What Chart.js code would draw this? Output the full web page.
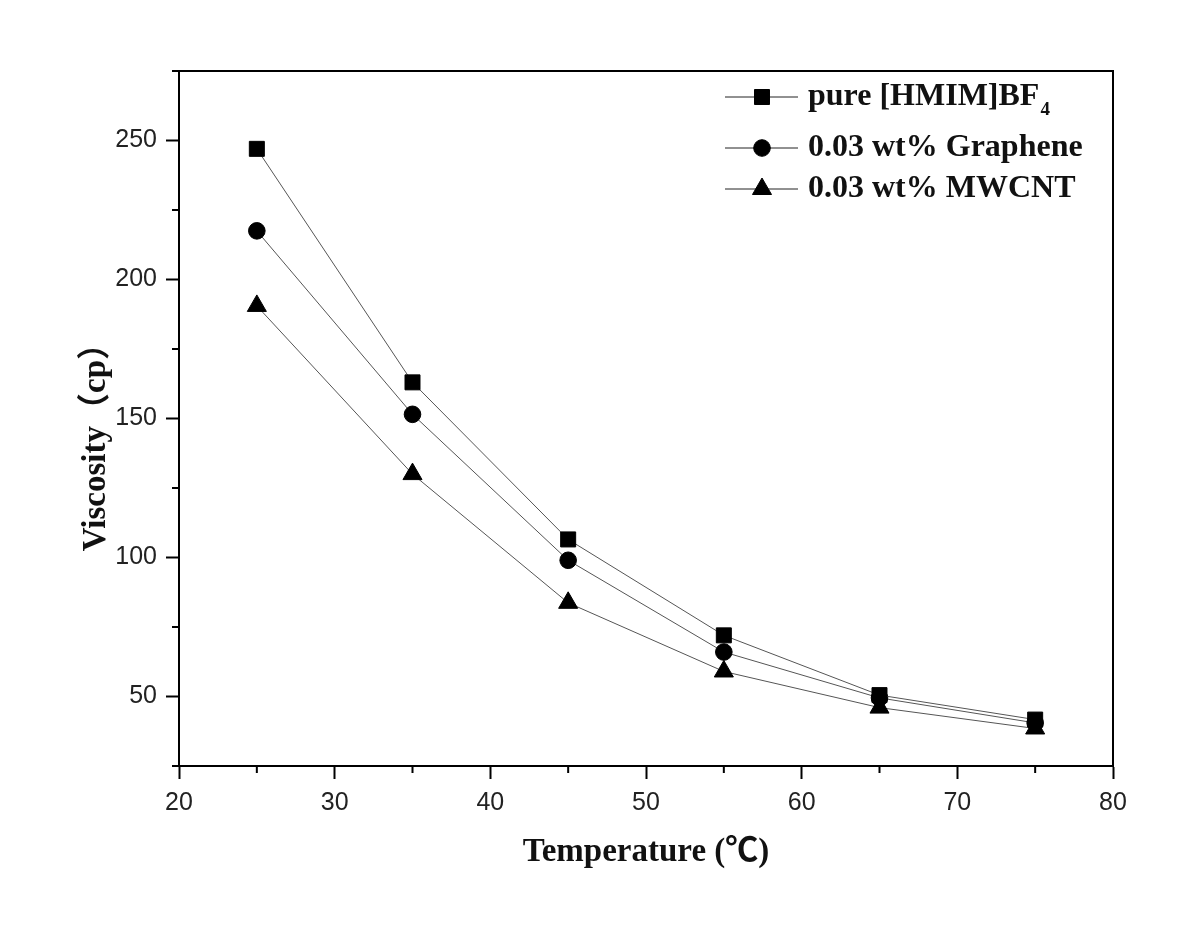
<!DOCTYPE html>
<html>
<head>
<meta charset="utf-8">
<title>Viscosity vs Temperature</title>
<script src="https://cdn.jsdelivr.net/npm/chart.js@4/dist/chart.umd.min.js"></script>
<style>
  html, body { margin: 0; padding: 0; background: #fff; }
  #wrap { width: 1200px; height: 941px; }
</style>
</head>
<body>
<div id="wrap"><canvas id="chart" width="1200" height="941"></canvas></div>
<script>
// data
const temperatures = [25, 35, 45, 55, 65, 75];
const pureValues = [247, 163, 106.5, 72, 50.5, 41.7];
const grapheneValues = [217.5, 151.5, 99, 66, 49.5, 40.5];
const mwcntValues = [190.5, 130, 83.7, 59, 46, 38.5];

const seriesLabels = ['pure [HMIM]BF', '0.03 wt% Graphene', '0.03 wt% MWCNT'];
const seriesSubscripts = ['4', '', ''];

const xTickValues = [20, 30, 40, 50, 60, 70, 80];
const xMinorTicks = [25, 35, 45, 55, 65, 75];
const yTickValues = [50, 100, 150, 200, 250];
const yMinorTicks = [25, 75, 125, 175, 225, 275];

const serif = '"Liberation Serif", "Times New Roman", "Noto Sans CJK SC", serif';
const sans = '"Liberation Sans", Arial, sans-serif';

function toPoints(values) {
  return temperatures.map((t, i) => ({ x: t, y: values[i] }));
}

function makeSeries(label, values, pointStyle, radius) {
  return {
    label,
    data: toPoints(values),
    borderColor: '#555',
    borderWidth: 1,
    pointStyle,
    pointRadius: radius,
    pointHoverRadius: radius,
    pointBackgroundColor: '#000',
    pointBorderColor: '#000',
    pointBorderWidth: 1,
    tension: 0,
    fill: false,
  };
}

// top/right frame lines, minor ticks and the in-plot legend
const framePlugin = {
  id: 'frame',
  afterDraw(chart) {
    const { ctx, chartArea: a, scales } = chart;
    ctx.save();
    ctx.strokeStyle = '#000';
    ctx.lineWidth = 2;
    ctx.beginPath();
    ctx.moveTo(a.left - 1, a.top);
    ctx.lineTo(a.right, a.top);
    ctx.lineTo(a.right, a.bottom + 1);
    ctx.stroke();

    // minor ticks
    ctx.beginPath();
    xMinorTicks.forEach((v) => {
      const px = scales.x.getPixelForValue(v);
      ctx.moveTo(px, a.bottom);
      ctx.lineTo(px, a.bottom + 7);
    });
    yMinorTicks.forEach((v) => {
      const py = scales.y.getPixelForValue(v);
      ctx.moveTo(a.left, py);
      ctx.lineTo(a.left - 7, py);
    });
    ctx.stroke();

    // legend
    const rowsY = [97, 148, 189];
    chart.data.datasets.forEach((ds, i) => {
      const y = rowsY[i];
      ctx.strokeStyle = '#222';
      ctx.lineWidth = 1;
      ctx.beginPath();
      ctx.moveTo(725, y);
      ctx.lineTo(798, y);
      ctx.stroke();
      ctx.fillStyle = '#000';
      ctx.strokeStyle = '#000';
      Chart.helpers.drawPoint(ctx, {
        pointStyle: ds.pointStyle,
        radius: ds.pointRadius,
        rotation: 0,
        borderWidth: 1,
      }, 762, y);

      ctx.fillStyle = '#111';
      ctx.textBaseline = 'middle';
      ctx.textAlign = 'left';
      ctx.font = 'bold 32px ' + serif;
      ctx.fillText(seriesLabels[i], 808, y);
      if (seriesSubscripts[i]) {
        const w = ctx.measureText(seriesLabels[i]).width;
        ctx.font = 'bold 19px ' + serif;
        ctx.fillText(seriesSubscripts[i], 808 + w + 1, y + 13);
      }
    });
    ctx.restore();
  },
};

new Chart(document.getElementById('chart'), {
  type: 'line',
  data: {
    datasets: [
      makeSeries(seriesLabels[0] + seriesSubscripts[0], pureValues, 'rect', 10.6),
      makeSeries(seriesLabels[1], grapheneValues, 'circle', 8.3),
      makeSeries(seriesLabels[2], mwcntValues, 'triangle', 11),
    ],
  },
  options: {
    responsive: false,
    animation: false,
    events: [],
    layout: { padding: { top: 71, right: 87, left: 0, bottom: 0 } },
    plugins: {
      legend: { display: false },
      tooltip: { enabled: false },
    },
    scales: {
      x: {
        type: 'linear',
        min: 20,
        max: 80,
        afterBuildTicks: (scale) => {
          scale.ticks = xTickValues.map((v) => ({ value: v }));
        },
        afterFit: (scale) => {
          scale.height = 175;
        },
        grid: {
          display: true,
          drawOnChartArea: false,
          drawTicks: true,
          tickLength: 13,
          tickColor: '#000',
          tickWidth: 2,
        },
        border: { display: true, color: '#000', width: 2 },
        ticks: {
          color: '#222',
          font: { family: sans, size: 25 },
          padding: 9,
          maxRotation: 0,
          autoSkip: false,
        },
        title: {
          display: true,
          text: 'Temperature (℃)',
          color: '#111',
          font: { family: serif, size: 33, weight: 'bold' },
          padding: { top: 0, bottom: 69 },
        },
      },
      y: {
        type: 'linear',
        min: 25,
        max: 275,
        afterBuildTicks: (scale) => {
          scale.ticks = yTickValues.map((v) => ({ value: v }));
        },
        afterFit: (scale) => {
          scale.width = 179;
        },
        grid: {
          display: true,
          drawOnChartArea: false,
          drawTicks: true,
          tickLength: 13,
          tickColor: '#000',
          tickWidth: 2,
        },
        border: { display: true, color: '#000', width: 2 },
        ticks: {
          color: '#222',
          font: { family: sans, size: 25 },
          padding: 9,
          autoSkip: false,
        },
        title: {
          display: true,
          // trailing spaces push the centred title down, as in the figure
          text: 'Viscosity（cp）' + '\u00a0'.repeat(5),
          color: '#111',
          font: { family: serif, size: 33, weight: 'bold' },
          padding: { top: 77, bottom: 0 },
        },
      },
    },
  },
  plugins: [framePlugin],
});
</script>
</body>
</html>
